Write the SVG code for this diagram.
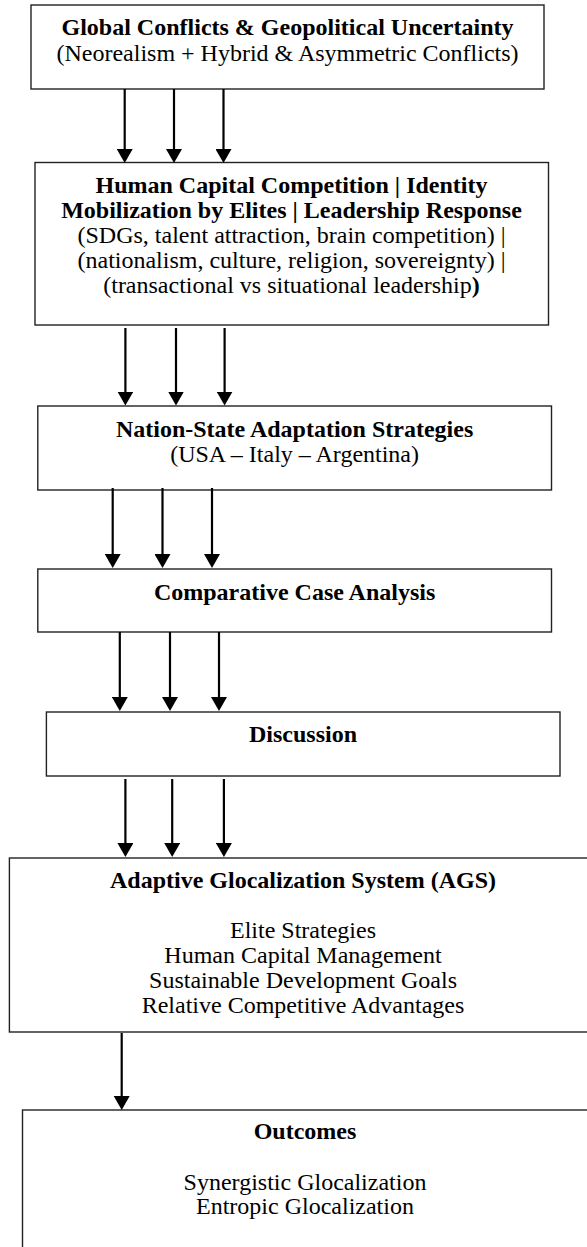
<svg xmlns="http://www.w3.org/2000/svg" width="587" height="1247" viewBox="0 0 587 1247">
<style>
.box{fill:#fff;stroke:#222;stroke-width:1.4}
.t{font-family:"Liberation Serif","Times New Roman",serif;font-size:24px;fill:#000;text-anchor:middle}
.b{font-weight:bold}
.arr{stroke:#000;stroke-width:2.2;fill:none;marker-end:url(#ah)}
</style>
<defs>
<marker id="ah" markerUnits="userSpaceOnUse" markerWidth="14" markerHeight="16" viewBox="0 0 14 16" refX="7" refY="8" orient="auto">
<path d="M0,0 L14,8 L0,16 Z" fill="#000"/>
</marker>
</defs>
<rect width="587" height="1247" fill="#fff"/>
<g id="node-global">
<rect class="box" x="31" y="5" width="513" height="84"/>
<text class="t b" x="287.5" y="35">Global Conflicts &amp; Geopolitical Uncertainty</text>
<text class="t" x="287.5" y="61">(Neorealism + Hybrid &amp; Asymmetric Conflicts)</text>
</g>
<g id="node-human">
<rect class="box" x="35" y="162.5" width="513.5" height="162.5"/>
<text class="t b" x="291.5" y="192.7">Human Capital Competition | Identity</text>
<text class="t b" x="291.5" y="217.7">Mobilization by Elites | Leadership Response</text>
<text class="t" x="291.5" y="242.7">(SDGs, talent attraction, brain competition) |</text>
<text class="t" x="291.5" y="267.7">(nationalism, culture, religion, sovereignty) |</text>
<text class="t" x="291.5" y="292.7">(transactional vs situational leadership<tspan class="b">)</tspan></text>
</g>
<g id="node-nation">
<rect class="box" x="37.8" y="406" width="513.7" height="84"/>
<text class="t b" x="294.6" y="436.7">Nation-State Adaptation Strategies</text>
<text class="t" x="294.6" y="461.7">(USA – Italy – Argentina)</text>
</g>
<g id="node-comparative">
<rect class="box" x="37.8" y="569" width="513.7" height="63"/>
<text class="t b" x="294.6" y="600">Comparative Case Analysis</text>
</g>
<g id="node-discussion">
<rect class="box" x="46.4" y="712" width="513.6" height="64"/>
<text class="t b" x="303" y="741.7">Discussion</text>
</g>
<g id="node-ags">
<rect class="box" x="9.4" y="858" width="590" height="174"/>
<text class="t b" x="303" y="888.3">Adaptive Glocalization System (AGS)</text>
<text class="t" x="303" y="938.3">Elite Strategies</text>
<text class="t" x="303" y="963.3">Human Capital Management</text>
<text class="t" x="303" y="988.3">Sustainable Development Goals</text>
<text class="t" x="303" y="1013.3">Relative Competitive Advantages</text>
</g>
<g id="node-outcomes">
<rect class="box" x="22.5" y="1110" width="566" height="160"/>
<text class="t b" x="305" y="1139.3">Outcomes</text>
<text class="t" x="305" y="1190">Synergistic Glocalization</text>
<text class="t" x="305" y="1214">Entropic Glocalization</text>
</g>
<g id="connectors">
<line class="arr" x1="124.7" y1="89" x2="124.7" y2="156"/>
<line class="arr" x1="174" y1="89" x2="174" y2="156"/>
<line class="arr" x1="223.5" y1="89" x2="223.5" y2="156"/>
<line class="arr" x1="125.4" y1="328" x2="125.4" y2="398.5"/>
<line class="arr" x1="176" y1="328" x2="176" y2="398.5"/>
<line class="arr" x1="224.6" y1="328" x2="224.6" y2="398.5"/>
<line class="arr" x1="112.7" y1="488" x2="112.7" y2="561"/>
<line class="arr" x1="162.5" y1="488" x2="162.5" y2="561"/>
<line class="arr" x1="212" y1="488" x2="212" y2="561"/>
<line class="arr" x1="119.8" y1="632" x2="119.8" y2="704"/>
<line class="arr" x1="170" y1="632" x2="170" y2="704"/>
<line class="arr" x1="219" y1="632" x2="219" y2="704"/>
<line class="arr" x1="125.4" y1="779" x2="125.4" y2="850"/>
<line class="arr" x1="172.2" y1="779" x2="172.2" y2="850"/>
<line class="arr" x1="223.9" y1="779" x2="223.9" y2="850"/>
<line class="arr" x1="121.7" y1="1033" x2="121.7" y2="1103"/>
</g>
</svg>
